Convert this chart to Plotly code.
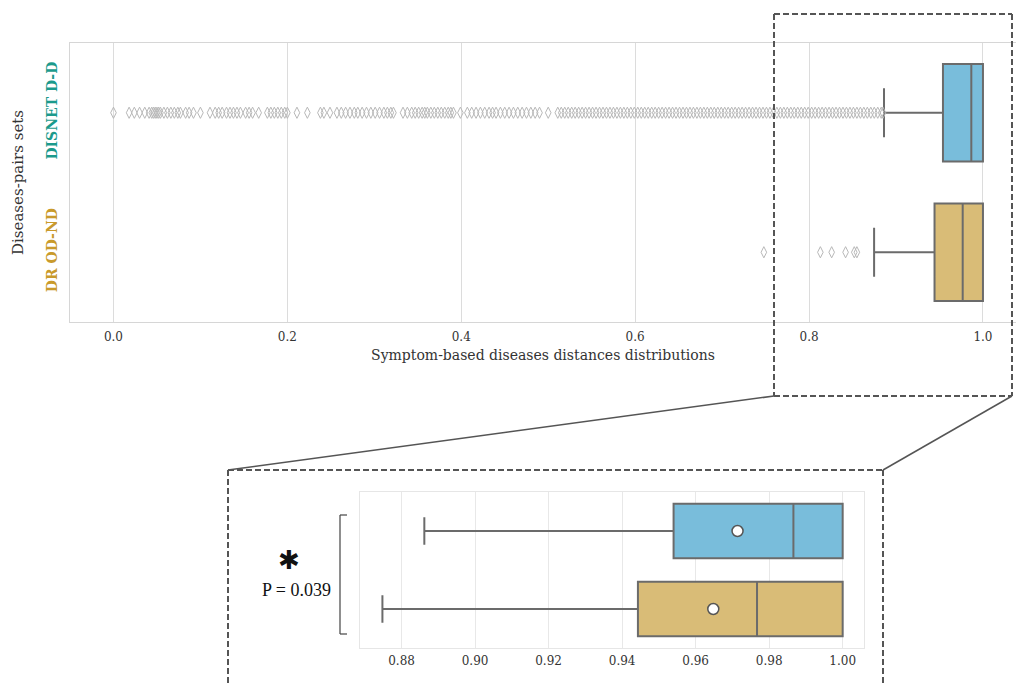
import plotly.graph_objects as go

# ---- data -------------------------------------------------------------
groups = ["DISNET D-D", "DR OD-ND"]
group_colors = ["#1b9a8c", "#c99a2c"]
box_fill = ["#79bddb", "#d9bc77"]

q1_vals = [0.9540, 0.9443]
median_vals = [0.9866, 0.9767]
q3_vals = [1.0, 1.0]
low_whisker = [0.8862, 0.8748]
high_whisker = [1.0, 1.0]
mean_vals = [0.9714, 0.9648]

disnet_outliers = [
    0.000, 0.018, 0.024, 0.030, 0.036, 0.041, 0.044, 0.046, 0.048, 0.050,
    0.052, 0.054, 0.058, 0.062, 0.066, 0.070, 0.074, 0.077, 0.083, 0.087,
    0.092, 0.100, 0.111, 0.117, 0.121, 0.125, 0.130, 0.134, 0.138, 0.142,
    0.146, 0.152, 0.156, 0.160, 0.167, 0.177, 0.181, 0.185, 0.189, 0.193,
    0.197, 0.200, 0.211, 0.223, 0.238, 0.242, 0.249, 0.257, 0.262, 0.267,
    0.272, 0.277, 0.281, 0.286, 0.291, 0.296, 0.301, 0.306, 0.311, 0.315,
    0.319, 0.322, 0.333, 0.338, 0.343, 0.347, 0.351, 0.355, 0.358, 0.361,
    0.365, 0.369, 0.373, 0.377, 0.381, 0.385, 0.388, 0.391, 0.399, 0.407,
    0.412, 0.417, 0.422, 0.427, 0.432, 0.436, 0.440, 0.445, 0.450, 0.455,
    0.460, 0.465, 0.470, 0.475, 0.480, 0.485, 0.490, 0.500, 0.511, 0.515,
    0.519, 0.523, 0.527, 0.531, 0.535, 0.539, 0.543, 0.547, 0.551, 0.555,
    0.559, 0.563, 0.567, 0.571, 0.575, 0.579, 0.583, 0.587, 0.591, 0.595,
    0.599, 0.603, 0.607, 0.611, 0.615, 0.619, 0.623, 0.627, 0.631, 0.635,
    0.639, 0.643, 0.647, 0.651, 0.655, 0.659, 0.663, 0.667, 0.671, 0.675,
    0.679, 0.683, 0.687, 0.691, 0.695, 0.699, 0.703, 0.707, 0.711, 0.715,
    0.719, 0.723, 0.727, 0.731, 0.735, 0.739, 0.743, 0.747, 0.751, 0.755,
    0.759, 0.763, 0.767, 0.771, 0.775, 0.779, 0.783, 0.787, 0.791, 0.795,
    0.799, 0.803, 0.807, 0.811, 0.815, 0.819, 0.823, 0.827, 0.831, 0.835,
    0.839, 0.843, 0.847, 0.851, 0.855, 0.859, 0.863, 0.867, 0.871, 0.875,
    0.879, 0.883, 0.885,
]
dr_outliers = [0.748, 0.813, 0.826, 0.842, 0.852, 0.855]

main_ticks = [0.0, 0.2, 0.4, 0.6, 0.8, 1.0]
zoom_ticks = [0.88, 0.90, 0.92, 0.94, 0.96, 0.98, 1.00]
p_value_text = "P = 0.039"

# ---- figure geometry (pixels of the 1016 x 686 page) -------------------
W, H = 1016, 686


def fx(px):
    return px / W


def fy(py):
    return 1 - py / H


SERIF = "DejaVu Serif"
LINE = "#6b6b6b"

fig = go.Figure()

for axes in (("x", "y"), ("x2", "y2")):
    for i, g in enumerate(groups):
        fig.add_trace(go.Box(
            orientation="h",
            y=[g],
            q1=[q1_vals[i]], median=[median_vals[i]], q3=[q3_vals[i]],
            lowerfence=[low_whisker[i]], upperfence=[high_whisker[i]],
            fillcolor=box_fill[i],
            line=dict(color=LINE, width=2),
            width=0.7, whiskerwidth=0.5,
            boxpoints=False, showlegend=False, hoverinfo="skip",
            xaxis=axes[0], yaxis=axes[1],
        ))

# outliers of the full-range panel
for g, pts in zip(groups, [disnet_outliers, dr_outliers]):
    fig.add_trace(go.Scatter(
        x=pts, y=[g] * len(pts), mode="markers",
        marker=dict(symbol="diamond-tall-open", size=8,
                    color="#b8b8b8", line=dict(width=1)),
        showlegend=False, hoverinfo="skip", xaxis="x", yaxis="y",
    ))

# means in the zoomed panel
fig.add_trace(go.Scatter(
    x=mean_vals, y=groups, mode="markers",
    marker=dict(symbol="circle", size=11, color="white",
                line=dict(color="#555555", width=1.5)),
    showlegend=False, hoverinfo="skip", xaxis="x2", yaxis="y2",
))

tick_html = [f"<b><span style='color:{c}'>{g}</span></b>"
             for g, c in zip(groups, group_colors)]

fig.update_layout(
    width=W, height=H,
    margin=dict(l=0, r=0, t=0, b=0),
    paper_bgcolor="white", plot_bgcolor="white",
    font=dict(family=SERIF, color="#333333"),
    xaxis=dict(
        domain=[fx(70), 1.0], range=[-0.05, 1.038],
        tickvals=main_ticks, tickformat=".1f",
        tickfont=dict(family=SERIF, size=12, color="#333333"),
        ticklabelstandoff=4,
        showgrid=True, gridcolor="#dcdcdc", gridwidth=1,
        zeroline=False, showline=True, mirror=True,
        linecolor="#d6d6d6", linewidth=1, ticks="",
        title=dict(text="Symptom-based diseases distances distributions",
                   font=dict(family=SERIF, size=14, color="#333333"),
                   standoff=6),
        anchor="y",
    ),
    yaxis=dict(
        domain=[fy(322), fy(43)], range=[-0.5, 1.5],
        type="category", categoryorder="array",
        categoryarray=[groups[1], groups[0]],
        tickvals=groups, ticktext=tick_html, tickangle=-90,
        tickfont=dict(family=SERIF, size=14),
        ticklabelstandoff=6,
        showgrid=False, zeroline=False, showline=True, mirror=False,
        linecolor="#d6d6d6", linewidth=1, ticks="",
        title=dict(text="Diseases-pairs sets",
                   font=dict(family=SERIF, size=15, color="#333333"),
                   standoff=17),
        anchor="x",
    ),
    xaxis2=dict(
        domain=[fx(360), fx(864)], range=[0.8687, 1.0058],
        tickvals=zoom_ticks, tickformat=".2f",
        tickfont=dict(family=SERIF, size=12, color="#333333"),
        ticklabelstandoff=2,
        showgrid=True, gridcolor="#e8e8e8", gridwidth=1,
        zeroline=False, showline=True, mirror=True,
        linecolor="#e6e6e6", linewidth=1, ticks="",
        anchor="y2",
    ),
    yaxis2=dict(
        domain=[fy(648), fy(492)], range=[-0.5, 1.5],
        type="category", categoryorder="array",
        categoryarray=[groups[1], groups[0]],
        showticklabels=False, showgrid=False, zeroline=False,
        showline=True, mirror=True, linecolor="#e6e6e6", linewidth=1,
        ticks="", anchor="x2",
    ),
)

# dashed frames, connectors and significance bracket
DASH = "6px,3px"
FRAME = dict(color="#555555", width=2, dash=DASH)
shapes = []


def seg(x0, y0, x1, y1, line):
    shapes.append(dict(type="line", xref="paper", yref="paper",
                       x0=fx(x0), y0=fy(y0), x1=fx(x1), y1=fy(y1), line=line))


# frame around the high-distance region of the full panel
seg(774, 14, 1012, 14, FRAME)
seg(774, 14, 774, 396, FRAME)
seg(1012, 14, 1012, 396, FRAME)
seg(774, 396, 1012, 396, FRAME)
# frame around the zoomed panel
seg(228, 470, 883, 470, FRAME)
seg(228, 470, 228, 700, FRAME)
seg(883, 470, 883, 700, FRAME)
# connectors
CONN = dict(color="#555555", width=1.5)
seg(774, 396, 228, 470, CONN)
seg(1012, 396, 883, 470, CONN)
# bracket
BR = dict(color="#444444", width=1.2)
seg(340, 515, 340, 634, BR)
seg(340, 515, 347, 515, BR)
seg(340, 634, 347, 634, BR)

fig.update_layout(shapes=shapes)

fig.add_annotation(
    xref="paper", yref="paper", x=fx(289), y=fy(560),
    text="✱", showarrow=False,
    font=dict(family="DejaVu Sans", size=26, color="#111111"),
    xanchor="center", yanchor="middle",
)
fig.add_annotation(
    xref="paper", yref="paper", x=fx(296), y=fy(590),
    text=p_value_text, showarrow=False,
    font=dict(family="Liberation Serif", size=18, color="#111111"),
    xanchor="center", yanchor="middle",
)

fig.write_html("out.html")
